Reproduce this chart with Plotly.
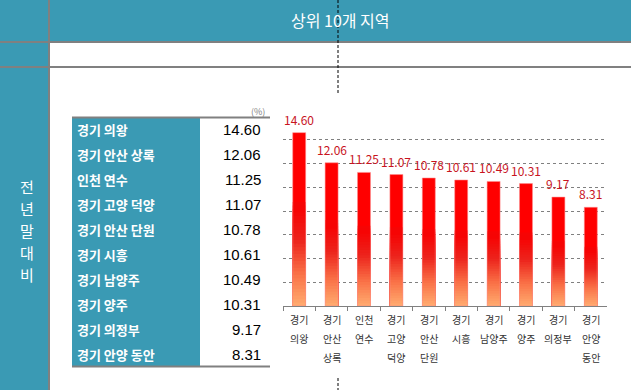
import plotly.graph_objects as go

# ---------------- data ----------------
regions = ["경기 의왕", "경기 안산 상록", "인천 연수", "경기 고양 덕양", "경기 안산 단원",
           "경기 시흥", "경기 남양주", "경기 양주", "경기 의정부", "경기 안양 동안"]
values = [14.60, 12.06, 11.25, 11.07, 10.78, 10.61, 10.49, 10.31, 9.17, 8.31]
title_text = "상위 10개 지역"
side_text = "전년말대비"
unit_text = "(%)"

# ---------------- helpers ----------------
W, H = 631, 390
TEAL = "#3A9AB4"
GRAY = "#808080"
KR = "Noto Sans CJK KR"


def px(x):
    return x / W


def py(y):
    return 1 - y / H


fig = go.Figure()


def lerp(c1, c2, t):
    return tuple(round(a + (b - a) * t) for a, b in zip(c1, c2))


stops = [(0.0, (255, 172, 112)), (0.18, (250, 115, 72)), (0.38, (236, 35, 28)),
         (0.55, (246, 4, 4)), (1.0, (255, 0, 0))]


def color_at(f):
    for (f0, c0), (f1, c1) in zip(stops[:-1], stops[1:]):
        if f0 <= f <= f1:
            return "rgb(%d,%d,%d)" % lerp(c0, c1, (f - f0) / (f1 - f0))
    return "rgb(255,0,0)"


fig.add_trace(go.Bar(x=regions, y=values, width=0.4,
                     marker=dict(color="rgb(255,0,0)", line=dict(width=0)),
                     hoverinfo="skip", showlegend=False))
N = 30
G = 0.6
for k in range(N):
    top = G * (N - k) / N
    mid = G * (N - k - 0.5) / N
    fig.add_trace(go.Bar(x=regions, y=[v * top for v in values], width=0.4,
                         marker=dict(color=color_at(mid), line=dict(width=0)),
                         hoverinfo="skip", showlegend=False))
fig.add_trace(go.Bar(x=regions, y=values, width=0.4,
                     marker=dict(color="rgba(0,0,0,0)",
                                 line=dict(width=1, color="rgba(255,140,140,0.55)")),
                     hoverinfo="skip", showlegend=False))

shapes = []
annotations = []

shapes.append(dict(type="rect", xref="paper", yref="paper", x0=px(0), x1=px(W), y0=py(42), y1=py(0),
                   fillcolor=TEAL, line=dict(width=0), layer="below"))
shapes.append(dict(type="rect", xref="paper", yref="paper", x0=px(0), x1=px(49), y0=py(H), y1=py(0),
                   fillcolor=TEAL, line=dict(width=0), layer="below"))
for yy in (42, 67):
    shapes.append(dict(type="line", xref="paper", yref="paper", x0=px(0), x1=px(W), y0=py(yy), y1=py(yy),
                       line=dict(color=GRAY, width=2)))
shapes.append(dict(type="line", xref="paper", yref="paper", x0=px(49), x1=px(49), y0=py(0), y1=py(H),
                   line=dict(color=GRAY, width=2)))
for y0, y1 in ((0, 95), (378, 390)):
    shapes.append(dict(type="line", xref="paper", yref="paper", x0=px(338), x1=px(338), y0=py(y0), y1=py(y1),
                       line=dict(color="black", width=1, dash="3px,2px")))

annotations.append(dict(text=title_text, x=px(340), y=py(20), xref="paper", yref="paper",
                        xanchor="center", yanchor="middle",
                        showarrow=False, font=dict(size=16, color="white", family=KR)))
for i, ch in enumerate(side_text):
    annotations.append(dict(text=ch, x=px(27), y=py(186 + 22 * i), xref="paper", yref="paper",
                            xanchor="center", yanchor="middle",
                            showarrow=False, font=dict(size=15, color="white", family=KR)))

T_TOP, T_BOT = 117.5, 366.5
row_h = (T_BOT - T_TOP) / len(regions)
shapes.append(dict(type="rect", xref="paper", yref="paper", x0=px(72), x1=px(200), y0=py(T_BOT), y1=py(T_TOP),
                   fillcolor=TEAL, line=dict(width=0), layer="below"))
for yy in (T_TOP, T_BOT):
    shapes.append(dict(type="line", xref="paper", yref="paper", x0=px(72), x1=px(270), y0=py(yy), y1=py(yy),
                       line=dict(color=GRAY, width=2)))
annotations.append(dict(text=unit_text, x=px(267), y=py(111), xref="paper", yref="paper",
                        xanchor="right", yanchor="middle",
                        showarrow=False, font=dict(size=9, color=GRAY, family=KR)))
for i, (name, v) in enumerate(zip(regions, values)):
    yc = T_TOP + row_h * (i + 0.5)
    annotations.append(dict(text="<b>%s</b>" % name, x=px(75), y=py(yc), xref="paper", yref="paper",
                            xanchor="left", yanchor="middle", showarrow=False,
                            font=dict(size=13, color="white", family=KR)))
    annotations.append(dict(text="%.2f" % v, x=px(263), y=py(yc), xref="paper", yref="paper",
                            xanchor="right", yanchor="middle", showarrow=False,
                            font=dict(size=15, color="black", family="Liberation Sans")))

for name, v in zip(regions, values):
    annotations.append(dict(text="%.2f" % v, x=name, y=v, xref="x", yref="y",
                            xanchor="center", yanchor="bottom", yshift=3,
                            showarrow=False, font=dict(size=12, color="#C8141E", family=KR)))
    for j, part in enumerate(name.split(" ")):
        annotations.append(dict(text=part, x=name, y=py(319 + 19 * j), xref="x", yref="paper",
                                xanchor="center", yanchor="middle",
                                showarrow=False, font=dict(size=10, color="#333333", family=KR)))

fig.update_layout(
    width=W, height=H, autosize=False,
    margin=dict(l=0, r=0, t=0, b=0),
    paper_bgcolor="white", plot_bgcolor="white",
    barmode="overlay", showlegend=False,
    shapes=shapes, annotations=annotations,
    xaxis=dict(domain=[px(283), px(607)], type="category", tickson="boundaries",
               ticks="outside", ticklen=4, tickcolor=GRAY, showticklabels=False,
               showline=True, linecolor=GRAY, linewidth=1, showgrid=False,
               range=[-0.5, len(regions) - 0.5], fixedrange=True),
    yaxis=dict(domain=[py(306), py(116)], range=[0, 16], dtick=2, showgrid=True,
               gridcolor=GRAY, griddash="dot", gridwidth=1, showticklabels=False,
               zeroline=False, showline=False, ticks="", fixedrange=True),
)

fig.write_html("out.html", config={"displayModeBar": False},
               post_script="document.body.style.margin='0';document.body.style.overflow='hidden';")
